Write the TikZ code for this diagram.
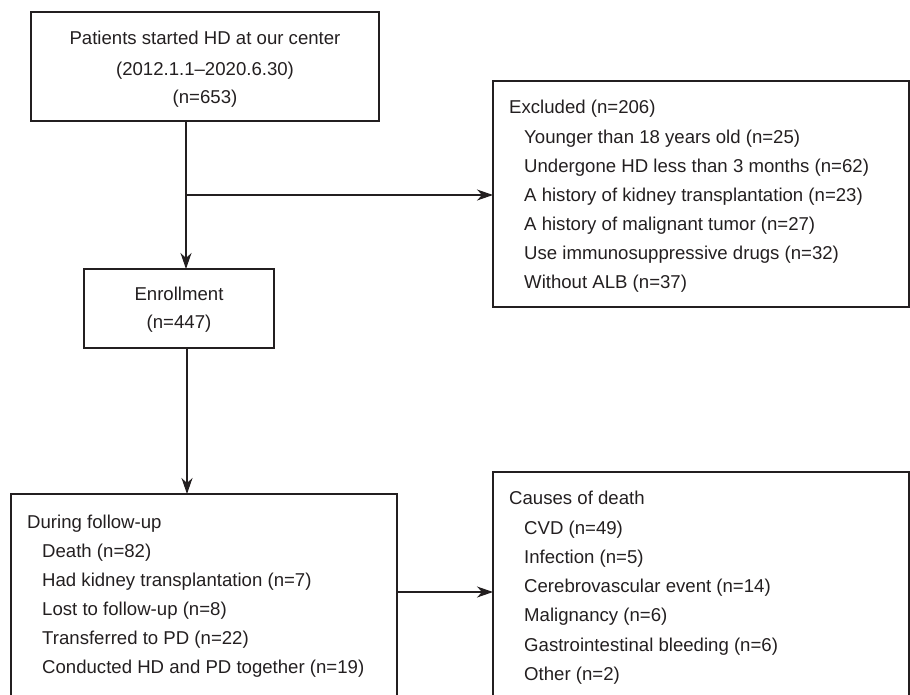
\documentclass[tikz,border=0pt]{standalone}
\usepackage{fontspec}
\setmainfont{Liberation Sans}
\usetikzlibrary{arrows.meta}
\definecolor{ink}{HTML}{231F20}
\begin{document}
\begin{tikzpicture}[x=1pt,y=-1pt,
  box/.style={draw=ink, line width=1.1pt, inner sep=0pt, outer sep=0pt},
  txt/.style={text=ink, font=\fontsize{18.6}{22}\selectfont, inner sep=0pt, anchor=base west},
  ctxt/.style={txt, anchor=base},
  arr/.style={draw=ink, line width=1.1pt, -{Stealth[length=16pt,width=11pt,inset=5pt]}}]
\useasboundingbox (0,0) rectangle (910,694);
\clip (0,0) rectangle (910,694);
% boxes
\node[box, minimum width=348pt, minimum height=109pt] (start) at (205,66.5) {};
\node[box, minimum width=416pt, minimum height=226pt] (excl) at (701,194) {};
\node[box, minimum width=190pt, minimum height=79pt] (enroll) at (179,308.5) {};
\node[box, minimum width=386pt, minimum height=226pt] (follow) at (204,607) {};
\node[box, minimum width=416pt, minimum height=248pt] (causes) at (701,596) {};
% texts: start
\node[ctxt] (s1) at (205,44) {Patients started HD at our center};
\node[ctxt] (s2) at (205,75) {(2012.1.1–2020.6.30)};
\node[ctxt] (s3) at (205,103) {(n=653)};
% excluded
\node[txt] (e0) at (509,113) {Excluded (n=206)};
\node[txt] (e1) at (524,143) {Younger than 18 years old (n=25)};
\node[txt] (e2) at (524,172) {Undergone HD less than 3 months (n=62)};
\node[txt] (e3) at (524,201) {A history of kidney transplantation (n=23)};
\node[txt] (e4) at (524,230) {A history of malignant tumor (n=27)};
\node[txt] (e5) at (524,259) {Use immunosuppressive drugs (n=32)};
\node[txt] (e6) at (524,288) {Without ALB (n=37)};
% enrollment
\node[ctxt] (n1) at (179,300) {Enrollment};
\node[ctxt] (n2) at (179,328) {(n=447)};
% follow-up
\node[txt] (f0) at (27,528) {During follow-up};
\node[txt] (f1) at (42,557) {Death (n=82)};
\node[txt] (f2) at (42,586) {Had kidney transplantation (n=7)};
\node[txt] (f3) at (42,615) {Lost to follow-up (n=8)};
\node[txt] (f4) at (42,644) {Transferred to PD (n=22)};
\node[txt] (f5) at (42,673) {Conducted HD and PD together (n=19)};
% causes
\node[txt] (c0) at (509,504) {Causes of death};
\node[txt] (c1) at (524,534.5) {CVD (n=49)};
\node[txt] (c2) at (524,563.5) {Infection (n=5)};
\node[txt] (c3) at (524,592.5) {Cerebrovascular event (n=14)};
\node[txt] (c4) at (524,621.5) {Malignancy (n=6)};
\node[txt] (c5) at (524,651) {Gastrointestinal bleeding (n=6)};
\node[txt] (c6) at (524,680) {Other (n=2)};
% connectors
\coordinate (branch) at (186,195);
\coordinate (mid2) at (187,420);
\coordinate (mid3) at (440,592);
\draw[arr] (start.south -| branch) -- (enroll.north -| branch);
\draw[arr] (branch) -- (branch -| excl.west);
\draw[arr] (enroll.south -| mid2) -- (follow.north -| mid2);
\draw[arr] (follow.east |- mid3) -- (causes.west |- mid3);
\end{tikzpicture}
\end{document}
